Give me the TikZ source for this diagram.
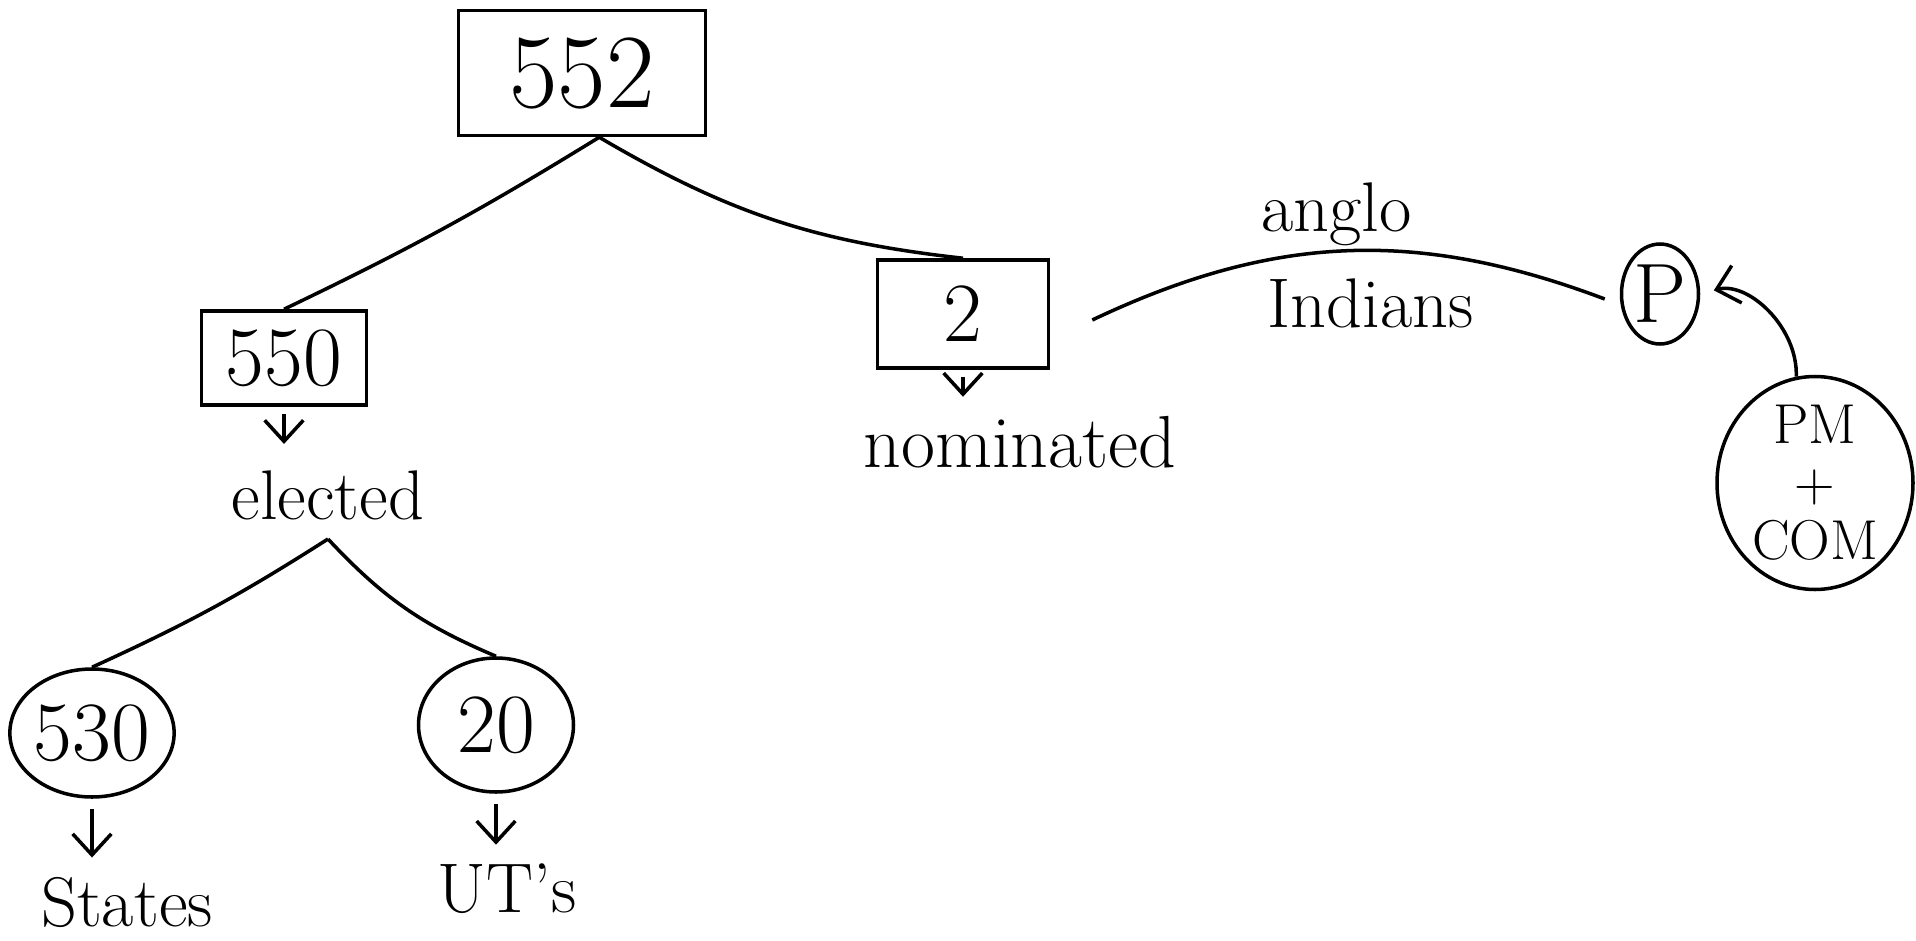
\documentclass[tikz,border=0pt]{standalone}
\usepackage{tikz}
\usetikzlibrary{arrows.meta,positioning,shapes.geometric}

\begin{document}
\begin{tikzpicture}[line width=1pt,
		numbox/.style={draw, rectangle, font=\fontsize{24}{28}\selectfont},
		numring/.style={draw, ellipse, inner sep=0pt, font=\fontsize{24}{28}\selectfont},
		word/.style={font=\fontsize{20}{24}\selectfont, inner sep=5pt},
		>={Straight Barb[length=6pt,width=11pt]}]
	\useasboundingbox (0,0) rectangle (19.16,-9.41);
	% tree of seats
	\node[numbox, minimum width=2.47cm, minimum height=1.25cm, font=\fontsize{30}{34}\selectfont] (T) at (5.82,-0.73) {552};
	\node[numbox, minimum width=1.65cm, minimum height=0.94cm] (L) at (2.84,-3.58) {550};
	\node[numbox, minimum width=1.71cm, minimum height=1.08cm] (R) at (9.63,-3.14) {2};
	\node[word] (E) at (3.28,-4.95) {elected};
	\node[word, font=\fontsize{21}{24}\selectfont] (Nom) at (10.20,-4.42) {nominated};
	\node[numring, minimum width=1.59cm, minimum height=1.28cm] (S) at (0.92,-7.33) {530};
	\node[numring, minimum width=1.55cm, minimum height=1.34cm] (U) at (4.96,-7.25) {20};
	\node[word] (St) at (1.27,-9.02) {States};
	\node[word] (Ut) at (5.07,-8.89) {UT's};
	\node[numring, minimum width=0.77cm, minimum height=1.00cm] (P) at (16.60,-2.94) {P};
	\node[numring, minimum width=1.96cm, minimum height=2.13cm, inner sep=-8pt, align=center, font=\fontsize{16}{16.5}\selectfont] (PM) at (18.15,-4.83) {PM\\+\\COM};
	\draw (T.-75) to[bend left=3] (L.north);
	\draw (T.-75) to[bend right=12] (R.north);
	\draw (E.south) to[bend left=4] (S.north);
	\draw (E.south) to[bend right=12] (U.north);
	\draw[->, shorten <=2pt, shorten >=2pt] (L.south) -- (L.south |- E.north);
	\draw[->, shorten <=2pt] (R.south) -- (R.south |- Nom.north);
	\draw[->, shorten <=3pt] (S.south) -- (S.south |- St.north);
	\draw[->, shorten <=3pt] (U.south) -- (U.south |- Ut.north);
	\draw ([xshift=0.42cm,yshift=-0.06cm]R.east) to[bend left=23]
		node[word, above, inner sep=1pt, pos=0.48] {anglo}
		node[word, below, inner sep=2pt, yshift=-0.2cm, pos=0.55] {Indians} ([xshift=-0.15cm,yshift=-0.05cm]P.west);
	\draw[->, shorten >=4pt] (PM.100) to[out=88, in=15] (P.east);
\end{tikzpicture}
\end{document}
